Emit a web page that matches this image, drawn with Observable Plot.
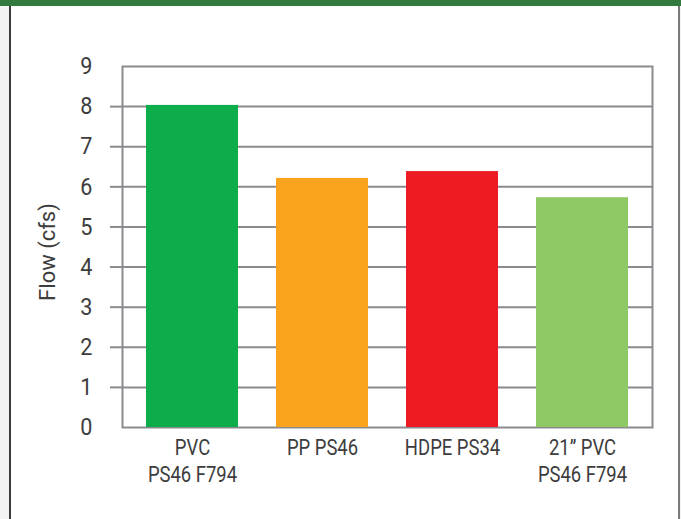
<!DOCTYPE html>
<html>
<head>
<meta charset="utf-8">
<script src="https://cdn.jsdelivr.net/npm/d3@7"></script>
<script src="https://cdn.jsdelivr.net/npm/@observablehq/plot@0.6"></script>
<style>
html, body { margin: 0; padding: 0; background: #f3f3f3; }
#wrap { position: relative; width: 681px; height: 519px; overflow: hidden; background: #f3f3f3; }
#panel { position: absolute; left: 9px; top: 0; width: 671px; height: 519px; background: #fff;
  border-left: 2px solid #3c3c3c; border-right: 2px solid #7a7a7a; box-sizing: border-box; }
#topbar { position: absolute; left: 0; top: 0; width: 681px; height: 6px; background: #337a3e; }
#chart { position: absolute; left: 0; top: 0; }
</style>
</head>
<body>
<div id="wrap">
  <div id="panel"></div>
  <div id="topbar"></div>
  <div id="chart"></div>
</div>
<script>
const categories = ["PVC\nPS46 F794", "PP PS46", "HDPE PS34", "21\u201D PVC\nPS46 F794"];
const flows = [8.03, 6.21, 6.38, 5.73];
const colors = ["#0cad4a", "#f9a41c", "#ed1c24", "#8ec965"];
const yTicks = [0, 1, 2, 3, 4, 5, 6, 7, 8, 9];
const gridTicks = [1, 2, 3, 4, 5, 6, 7, 8];
const yLabel = "Flow (cfs)";

const data = categories.map((c, i) => ({category: c, flow: flows[i], color: colors[i]}));
const font = "Roboto, 'Noto Sans', sans-serif";
const gridColor = "#8b8b8f";
const textColor = "#3d3d3d";

const chart = Plot.plot({
  width: 681,
  height: 519,
  marginLeft: 122,
  marginRight: 29,
  marginTop: 66,
  marginBottom: 92,
  style: {background: "transparent", fontFamily: font, color: textColor},
  x: {domain: categories, paddingInner: 0.29, paddingOuter: 0.17, label: null},
  y: {domain: [0, 9], label: null},
  color: {type: "identity"},
  marks: [
    Plot.ruleY(gridTicks, {stroke: gridColor, strokeWidth: 2, strokeOpacity: 1}),
    Plot.axisY(gridTicks, {tickSize: 12, tickFormat: () => "", stroke: gridColor, strokeWidth: 2, strokeOpacity: 1, label: null}),
    Plot.frame({stroke: gridColor, strokeWidth: 2, strokeOpacity: 1}),
    Plot.barY(data, {x: "category", y: "flow", fill: "color"}),
    Plot.axisY(yTicks, {tickSize: 0, tickPadding: 30, fontSize: 24, fill: textColor, label: null}),
    Plot.axisX({tickSize: 0, tickPadding: 8, fontSize: 22.5, lineHeight: 1.2, fill: textColor, label: null}),
    Plot.text([yLabel], {frameAnchor: "left", textAnchor: "middle", dx: -75, dy: 5, rotate: -90, fontSize: 22, fill: textColor})
  ]
});
document.getElementById("chart").appendChild(chart);

// narrow the lettering to mimic the condensed typeface of the original
function squeeze(selector, k) {
  chart.querySelectorAll(selector).forEach(t => {
    const spans = t.querySelectorAll("tspan");
    const nodes = spans.length ? Array.from(spans) : [t];
    nodes.forEach(n => {
      const len = n.getComputedTextLength();
      if (len > 0) {
        n.setAttribute("textLength", (len * k).toFixed(2));
        n.setAttribute("lengthAdjust", "spacingAndGlyphs");
      }
    });
  });
}
squeeze('g[aria-label="x-axis tick label"] text', 0.82);
squeeze('g[aria-label="y-axis tick label"] text', 0.9);
</script>
</body>
</html>
